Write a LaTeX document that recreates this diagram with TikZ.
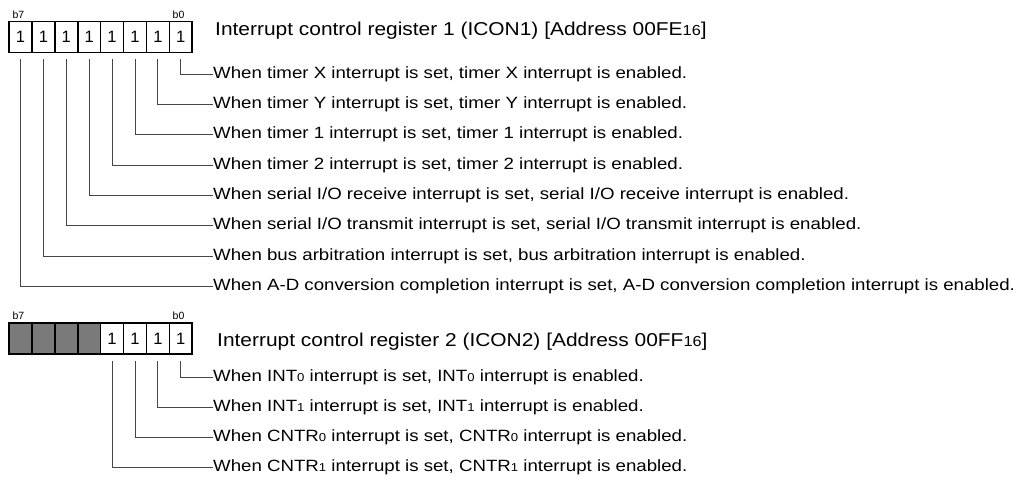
\documentclass[tikz,border=0pt]{standalone}
\usepackage{fontspec}
\setmainfont{Liberation Sans}
\newfontfamily\descfont[FakeStretch=1.145]{Liberation Sans}
\newfontfamily\headfont[FakeStretch=1.125]{Liberation Sans}
\definecolor{cellgray}{RGB}{122,122,122}
\definecolor{leadgray}{RGB}{70,70,70}
\newcommand\dsub[1]{{\fontsize{11.5bp}{11.5bp}\selectfont #1}}
\newcommand\hsub[1]{{\fontsize{14.5bp}{14.5bp}\selectfont #1}}
\begin{document}
\begin{tikzpicture}[x=1bp,y=-1bp,
  cell/.style={draw=black,line width=1.6bp,minimum width=22.9bp,minimum height=31bp,inner sep=0,outer sep=0,font=\fontsize{16.5bp}{16.5bp}\selectfont},
  graycell/.style={cell,fill=cellgray},
  lead/.style={draw=leadgray,line width=0.9bp},
  desc/.style={anchor=west,inner sep=0,text height=11.7bp,text depth=3.4bp,font=\descfont\fontsize{16.3bp}{19bp}\selectfont},
  head/.style={anchor=base west,inner sep=0,font=\headfont\fontsize{18.6bp}{22bp}\selectfont},
  bitlbl/.style={anchor=base,inner sep=0,font=\fontsize{10.5bp}{10.5bp}\selectfont}
]
\useasboundingbox (0,0) rectangle (1019,477);
% ---------- register 1 ----------
\foreach \j in {0,...,7} {
  \pgfmathtruncatemacro\b{7-\j}
  \node[cell] (ra\b) at (20.45+22.9*\j,37) {1};
}
\node[bitlbl] (ra7l) at (18.5,18.3) {b7};
\node[bitlbl] (ra0l) at (178.5,18.3) {b0};
\node[head] (rahead) at (215,36) {Interrupt control register 1 (ICON1) [Address 00FE\hsub{16}]};
\node[desc] (da0) at (213,74)    {When timer X interrupt is set, timer X interrupt is enabled.};
\node[desc] (da1) at (213,104.5) {When timer Y interrupt is set, timer Y interrupt is enabled.};
\node[desc] (da2) at (213,134.7) {When timer 1 interrupt is set, timer 1 interrupt is enabled.};
\node[desc] (da3) at (213,165)   {When timer 2 interrupt is set, timer 2 interrupt is enabled.};
\node[desc] (da4) at (213,195.5) {When serial I/O receive interrupt is set, serial I/O receive interrupt is enabled.};
\node[desc] (da5) at (213,225.7) {When serial I/O transmit interrupt is set, serial I/O transmit interrupt is enabled.};
\node[desc] (da6) at (213,256)   {When bus arbitration interrupt is set, bus arbitration interrupt is enabled.};
\node[desc] (da7) at (213,286.2) {When A-D conversion completion interrupt is set, A-D conversion completion interrupt is enabled.};
\foreach \b in {0,...,7} {
  \draw[lead] ([yshift=-7bp]ra\b.south) |- (da\b.west);
}
% ---------- register 2 ----------
\foreach \j in {0,...,3} {
  \pgfmathtruncatemacro\b{7-\j}
  \node[graycell] (rb\b) at (20.45+22.9*\j,338.5) {};
}
\foreach \j in {4,...,7} {
  \pgfmathtruncatemacro\b{7-\j}
  \node[cell] (rb\b) at (20.45+22.9*\j,338.5) {1};
}
\node[bitlbl] (rb7l) at (18.5,320) {b7};
\node[bitlbl] (rb0l) at (178.5,320) {b0};
\node[head] (rbhead) at (217,347) {Interrupt control register 2 (ICON2) [Address 00FF\hsub{16}]};
\node[desc] (db0) at (213,377) {When INT\dsub{0} interrupt is set, INT\dsub{0} interrupt is enabled.};
\node[desc] (db1) at (213,407) {When INT\dsub{1} interrupt is set, INT\dsub{1} interrupt is enabled.};
\node[desc] (db2) at (213,437) {When CNTR\dsub{0} interrupt is set, CNTR\dsub{0} interrupt is enabled.};
\node[desc] (db3) at (213,467) {When CNTR\dsub{1} interrupt is set, CNTR\dsub{1} interrupt is enabled.};
\foreach \b in {0,...,3} {
  \draw[lead] ([yshift=-7bp]rb\b.south) |- (db\b.west);
}
\end{tikzpicture}
\end{document}
